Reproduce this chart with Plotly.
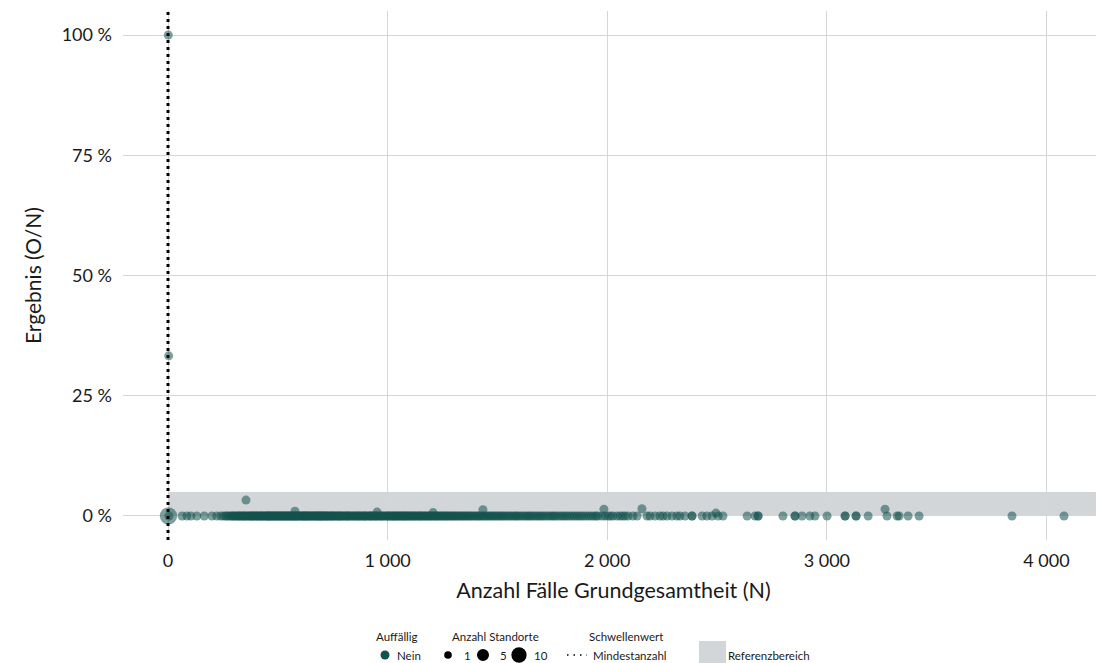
import plotly.graph_objects as go

# ---- data ----
# Standorte with Ergebnis = 0 % (N values)
n_zero = [2, 4, 64, 86, 104, 131, 165, 200, 222, 240, 252, 262, 268, 276, 284, 290, 295, 301, 306,
          312, 318, 322, 327, 331, 338, 342, 346, 350, 356, 361, 367, 372, 376, 380, 385, 388, 393,
          398, 401, 405, 410, 414, 420, 423, 427, 431, 436, 440, 446, 449, 452, 457, 459, 463, 468,
          470, 475, 478, 482, 486, 491, 494, 497, 503, 506, 510, 514, 518, 522, 526, 529, 533, 538,
          541, 545, 548, 553, 556, 560, 566, 568, 571, 576, 579, 583, 586, 590, 595, 598, 604, 607,
          611, 617, 619, 622, 627, 630, 634, 637, 641, 646, 649, 655, 658, 662, 668, 671, 675, 679,
          682, 688, 691, 694, 698, 701, 706, 709, 714, 718, 722, 726, 729, 735, 739, 744, 747, 750,
          757, 761, 765, 771, 775, 779, 783, 786, 793, 797, 801, 808, 812, 816, 820, 824, 831, 836,
          840, 847, 851, 856, 862, 866, 871, 876, 880, 888, 892, 896, 900, 905, 913, 917, 921, 926,
          930, 938, 941, 947, 952, 956, 964, 968, 973, 978, 983, 991, 996, 1000, 1004, 1009, 1015,
          1019, 1024, 1028, 1033, 1037, 1042, 1047, 1051, 1056, 1062, 1066, 1071, 1075, 1080, 1085,
          1090, 1095, 1099, 1104, 1110, 1115, 1119, 1124, 1130, 1135, 1141, 1146, 1150, 1155, 1161,
          1166, 1172, 1177, 1183, 1188, 1193, 1198, 1204, 1210, 1216, 1221, 1226, 1232, 1238, 1244,
          1250, 1256, 1262, 1267, 1273, 1279, 1286, 1292, 1298, 1303, 1310, 1316, 1322, 1329, 1336,
          1342, 1348, 1355, 1361, 1368, 1375, 1381, 1388, 1395, 1403, 1410, 1416, 1423, 1431, 1438,
          1446, 1453, 1461, 1469, 1476, 1484, 1492, 1500, 1508, 1516, 1524, 1531, 1540, 1549, 1557,
          1566, 1575, 1583, 1590, 1598, 1608, 1617, 1627, 1636, 1644, 1652, 1662, 1671, 1681, 1690,
          1699, 1708, 1718, 1729, 1739, 1749, 1757, 1766, 1777, 1788, 1798, 1808, 1818, 1829, 1840,
          1851, 1861, 1872, 1882, 1893, 1905, 1917, 1928, 1940, 1949, 1958,
          1976, 1990, 2004, 2015, 2026, 2044, 2058, 2070, 2081, 2095, 2117, 2136, 2181, 2195, 2218,
          2240, 2254, 2272, 2295, 2317, 2331, 2354, 2386, 2386, 2432, 2454, 2477, 2505, 2527, 2637,
          2673, 2687, 2687, 2800, 2855, 2855, 2887, 2923, 2946, 3001, 3083, 3083, 3133, 3133, 3188,
          3274, 3320, 3329, 3370, 3420, 3843, 4080]
count_zero = [9] + [1] * (len(n_zero) - 1)

# Standorte with Ergebnis > 0 %
n_pos = [1, 3, 355, 578, 952, 1207, 1434, 1985, 2158, 2495, 3265]
ergebnis_pos = [1.0, 0.333, 0.033, 0.010, 0.008, 0.007, 0.013, 0.014, 0.015, 0.006, 0.014]
count_pos = [1] * len(n_pos)

mindestanzahl = 0
referenz = [0.0, 0.05]

x_ticks = [0, 1000, 2000, 3000, 4000]
x_labels = ["0", "1 000", "2 000", "3 000", "4 000"]
y_ticks = [0, 0.25, 0.5, 0.75, 1.0]
y_labels = ["0 %", "25 %", "50 %", "75 %", "100 %"]

legend_sizes = [1, 5, 10]

# ---- style ----
FONT = "Lato"
TEAL = "#14524f"
BAND = "#d2d6d9"
GRID = "#d6d6d6"
TXT = "#1a1a1a"


def dot_size(c):
    return 9 + (c ** 0.5 - 1) / (10 ** 0.5 - 1) * 9


# the page body has an 8px margin, so the figure is drawn 8px in from the corner
OFF = 8
W, H = 1104 - OFF, 663 - OFF
# plot area in window pixels
L, R, T, B = 123, 1104, 11, 540
PW, PH = R - L, B - T


def px(x):
    return (x - L) / PW


def py(y):
    return (B - y) / PH


fig = go.Figure()

fig.add_trace(go.Scatter(
    x=n_zero + n_pos,
    y=[0.0] * len(n_zero) + ergebnis_pos,
    mode="markers",
    marker=dict(color=TEAL, opacity=0.55,
                size=[dot_size(c) for c in count_zero + count_pos],
                line=dict(width=0)),
    showlegend=False,
    hoverinfo="x+y",
))

# Referenzbereich
fig.add_shape(type="rect", xref="x", yref="y", x0=0, x1=4244,
              y0=referenz[0], y1=referenz[1], fillcolor=BAND, line=dict(width=0), layer="below")
# Mindestanzahl
fig.add_shape(type="line", xref="x", yref="paper", x0=mindestanzahl, x1=mindestanzahl, y0=0, y1=1,
              line=dict(color="black", width=3, dash="3px,4px"))

fig.update_xaxes(range=[-205, 4262], tickvals=x_ticks, ticktext=x_labels,
                 showgrid=True, gridcolor=GRID, gridwidth=1, zeroline=False, showline=False,
                 ticklabelstandoff=8, tickfont=dict(size=18, color=TXT),
                 title=dict(text="Anzahl Fälle Grundgesamtheit (N)", standoff=12,
                            font=dict(size=21.5, color=TXT)))
fig.update_yaxes(range=[-0.05, 1.05], tickvals=y_ticks, ticktext=y_labels,
                 showgrid=True, gridcolor=GRID, gridwidth=1, zeroline=False, showline=False,
                 ticklabelstandoff=10, tickfont=dict(size=18, color=TXT),
                 title=dict(text="Ergebnis (O/N)", standoff=14,
                            font=dict(size=21, color=TXT)))

# ---- custom legend below the plot ----
ann = []


def label(x, y, text, anchor="left"):
    ann.append(dict(x=px(x), y=py(y), xref="paper", yref="paper", text=text, showarrow=False,
                    xanchor=anchor, yanchor="middle", font=dict(size=11.5, color=TXT)))


label(397, 636, "Auffällig", "center")
label(495, 636, "Anzahl Standorte", "center")
label(626, 636, "Schwellenwert", "center")

fig.add_shape(type="circle", xref="paper", yref="paper", xsizemode="pixel", ysizemode="pixel",
              xanchor=px(385), yanchor=py(655), x0=-4.5, x1=4.5, y0=-4.5, y1=4.5,
              fillcolor=TEAL, line=dict(width=0))
label(395, 655, "Nein")

for c, cx, tx in zip(legend_sizes, [448, 483, 519], [462, 498, 532]):
    r = dot_size(c) / 2 * 0.85
    fig.add_shape(type="circle", xref="paper", yref="paper", xsizemode="pixel", ysizemode="pixel",
                  xanchor=px(cx), yanchor=py(655), x0=-r, x1=r, y0=-r, y1=r,
                  fillcolor="black", line=dict(width=0))
    label(tx, 655, str(c))

fig.add_shape(type="line", xref="paper", yref="paper", x0=px(567), x1=px(587), y0=py(655), y1=py(655),
              line=dict(color="black", width=1.5, dash="1.5px,5px"))
label(591, 655, "Mindestanzahl")

fig.add_shape(type="rect", xref="paper", yref="paper", x0=px(699), x1=px(726), y0=py(663), y1=py(641),
              fillcolor=BAND, line=dict(width=0))
label(726, 655, "Referenzbereich")

fig.update_layout(
    width=W, height=H,
    margin=dict(l=L - OFF, r=W + OFF - R, t=T - OFF, b=H + OFF - B),
    plot_bgcolor="white", paper_bgcolor="white",
    font=dict(family=FONT, color=TXT),
    annotations=ann,
    showlegend=False,
)

fig.write_html("out.html")
